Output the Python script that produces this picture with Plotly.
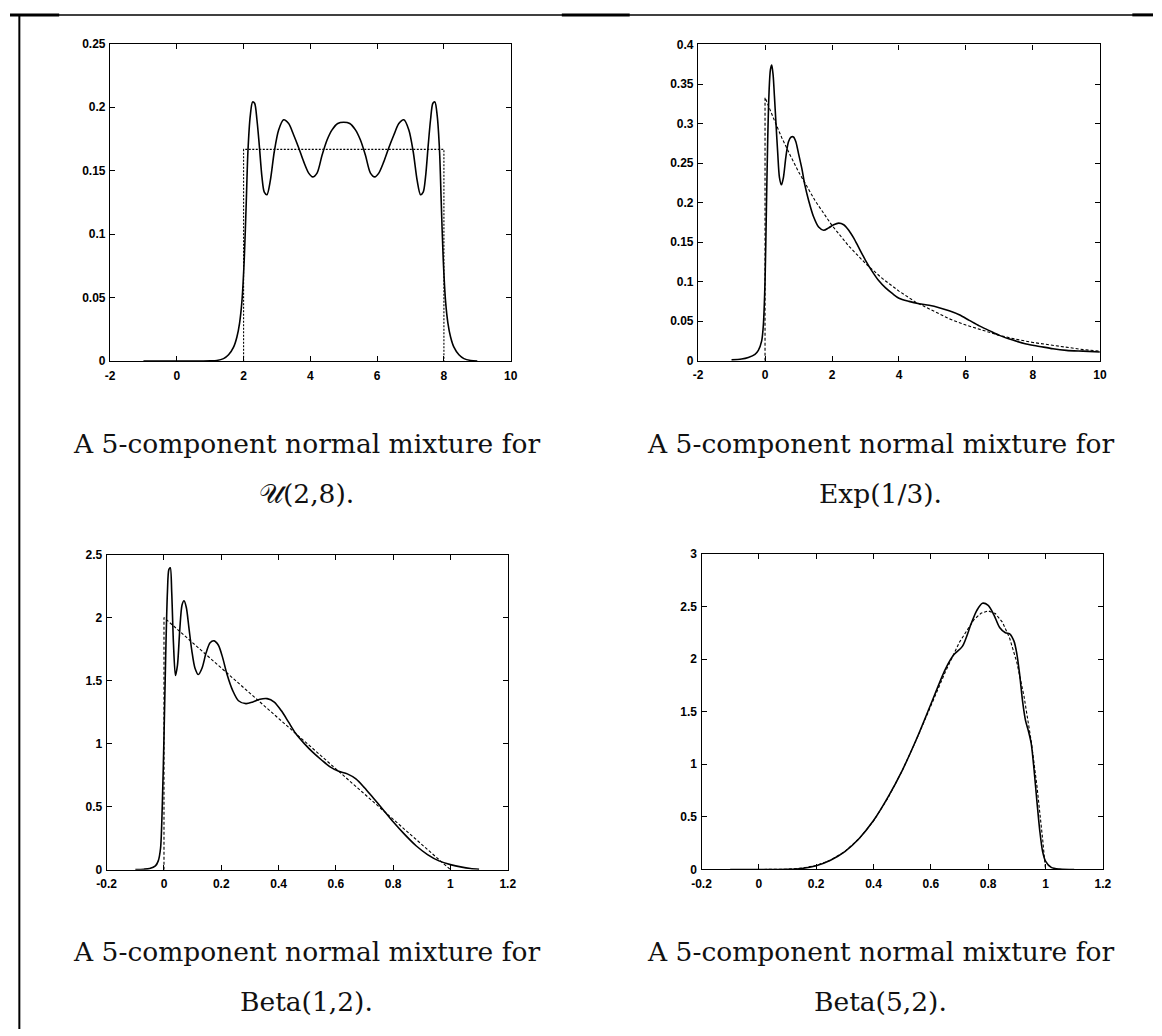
import plotly.graph_objects as go

W, H = 1162, 1036

# ---------------- data ----------------
# Panel 1: U(2,8)
u_true_x = [2, 2, 8, 8]
u_true_y = [0, 0.1667, 0.1667, 0]
u_fit_x = [-1, 0, 0.5, 1.0, 1.2, 1.4, 1.55, 1.7, 1.8, 1.88, 1.95, 2.02, 2.08, 2.13, 2.2, 2.27,
           2.33, 2.4, 2.47, 2.55, 2.62, 2.7, 2.8, 2.92, 3.05, 3.2, 3.35, 3.5, 3.65, 3.8, 3.95,
           4.07, 4.2, 4.35, 4.5, 4.65, 4.82, 5.0, 5.18, 5.35, 5.5, 5.65, 5.8, 5.93, 6.05, 6.2,
           6.35, 6.5, 6.65, 6.8, 6.95, 7.08, 7.2, 7.3, 7.38, 7.45, 7.53, 7.6, 7.67, 7.73, 7.8,
           7.87, 7.92, 7.98, 8.05, 8.12, 8.2, 8.3, 8.45, 8.6, 8.8, 9.0]
u_fit_y = [0, 0, 0, 0.0002, 0.0005, 0.002, 0.005, 0.011, 0.019, 0.03, 0.047, 0.08, 0.125, 0.165,
           0.193, 0.204, 0.203, 0.19, 0.17, 0.145, 0.133, 0.131, 0.142, 0.165, 0.182, 0.19,
           0.187, 0.178, 0.168, 0.157, 0.148, 0.145, 0.148, 0.162, 0.174, 0.182, 0.187, 0.188,
           0.187, 0.182, 0.174, 0.162, 0.148, 0.145, 0.148, 0.157, 0.168, 0.178, 0.187, 0.19,
           0.182, 0.165, 0.142, 0.131, 0.133, 0.145, 0.17, 0.19, 0.203, 0.204, 0.193, 0.165,
           0.125, 0.08, 0.047, 0.03, 0.019, 0.011, 0.005, 0.002, 0.0005, 0]

# Panel 2: Exp(1/3)
exp_true_x = [0, 0, 0.25, 0.5, 0.75, 1, 1.5, 2, 2.5, 3, 3.5, 4, 4.5, 5, 5.5, 6, 6.5, 7, 7.5,
              8, 8.5, 9, 9.5, 10]
exp_true_y = [0, 0.333, 0.307, 0.282, 0.260, 0.239, 0.202, 0.171, 0.145, 0.123, 0.104, 0.088,
              0.074, 0.063, 0.053, 0.045, 0.038, 0.032, 0.027, 0.023, 0.020, 0.017, 0.014, 0.012]
exp_fit_x = [-1, -0.7, -0.5, -0.3, -0.2, -0.1, -0.05, 0, 0.04, 0.08, 0.12, 0.16, 0.2, 0.24,
             0.28, 0.33, 0.38, 0.43, 0.49, 0.55, 0.62, 0.7, 0.78, 0.85, 0.92, 1.0, 1.1, 1.19,
             1.3, 1.45, 1.6, 1.75, 1.9, 2.05, 2.2, 2.35, 2.5, 2.65, 2.8, 3.0, 3.2, 3.4, 3.6,
             3.8, 4.0, 4.3, 4.6, 4.9, 5.2, 5.5, 5.8, 6.1, 6.4, 6.7, 7.0, 7.4, 7.8, 8.2, 8.6,
             9.0, 9.5, 10]
exp_fit_y = [0.001, 0.002, 0.004, 0.008, 0.013, 0.025, 0.045, 0.1, 0.19, 0.28, 0.34, 0.368,
             0.374, 0.362, 0.335, 0.298, 0.262, 0.232, 0.2225, 0.232, 0.257, 0.277, 0.283,
             0.283, 0.277, 0.262, 0.243, 0.222, 0.203, 0.182, 0.169, 0.165, 0.168, 0.172,
             0.174, 0.172, 0.165, 0.155, 0.143, 0.127, 0.113, 0.101, 0.092, 0.085, 0.079,
             0.075, 0.072, 0.07, 0.067, 0.063, 0.058, 0.051, 0.044, 0.038, 0.032, 0.026,
             0.021, 0.018, 0.015, 0.013, 0.012, 0.011]

# Panel 3: Beta(1,2)
b12_true_x = [0, 0, 1]
b12_true_y = [0, 2, 0]
b12_fit_x = [-0.1, -0.07, -0.05, -0.03, -0.02, -0.012, -0.006, 0, 0.006, 0.012, 0.017, 0.022,
             0.027, 0.033, 0.04, 0.047, 0.055, 0.063, 0.07, 0.078, 0.087, 0.097, 0.108, 0.12,
             0.133, 0.147, 0.161, 0.175, 0.19, 0.205, 0.22, 0.24, 0.26, 0.286, 0.31, 0.335,
             0.36, 0.385, 0.41, 0.435, 0.46, 0.49, 0.52, 0.55, 0.58, 0.61, 0.64, 0.67, 0.7,
             0.73, 0.76, 0.8, 0.84, 0.88, 0.92, 0.96, 1.0, 1.04, 1.07, 1.1]
b12_fit_y = [0.001, 0.004, 0.01, 0.03, 0.07, 0.17, 0.5, 1.05, 1.7, 2.2, 2.38, 2.395, 2.2, 1.8,
             1.54, 1.62, 1.9, 2.1, 2.133, 2.08, 1.92, 1.74, 1.6, 1.548, 1.6, 1.72, 1.8, 1.815,
             1.78, 1.68, 1.55, 1.42, 1.34, 1.317, 1.33, 1.352, 1.357, 1.33, 1.26, 1.17, 1.08,
             1.0, 0.93, 0.87, 0.815, 0.78, 0.76, 0.72, 0.65, 0.57, 0.49, 0.38, 0.28, 0.19,
             0.12, 0.07, 0.04, 0.02, 0.01, 0.004]

# Panel 4: Beta(5,2)
b52_true_x = [0, 0.05, 0.1, 0.15, 0.2, 0.25, 0.3, 0.35, 0.4, 0.45, 0.5, 0.55, 0.6, 0.65, 0.7,
              0.75, 0.775, 0.8, 0.825, 0.85, 0.875, 0.9, 0.925, 0.95, 0.97, 0.975, 0.99, 1.0]
b52_true_y = [0, 0.0002, 0.003, 0.013, 0.038, 0.088, 0.170, 0.293, 0.461, 0.677, 0.938, 1.235,
              1.555, 1.874, 2.161, 2.373, 2.435, 2.458, 2.432, 2.349, 2.198, 1.968, 1.647,
              1.222, 0.797, 0.678, 0.288, 0]
b52_fit_x = [-0.1, 0, 0.1, 0.15, 0.2, 0.25, 0.3, 0.35, 0.4, 0.45, 0.5, 0.55, 0.6, 0.65, 0.68,
             0.71, 0.74, 0.76, 0.78, 0.8, 0.82, 0.84, 0.86, 0.875, 0.89, 0.9, 0.91, 0.92, 0.93,
             0.94, 0.95, 0.96, 0.97, 0.98, 0.99, 1.0, 1.02, 1.05, 1.1]
b52_fit_y = [0, 0, 0.002, 0.01, 0.036, 0.088, 0.17, 0.295, 0.465, 0.685, 0.94, 1.24, 1.57, 1.9,
             2.04, 2.12, 2.33, 2.46, 2.53, 2.51, 2.42, 2.3, 2.25, 2.24, 2.17, 2.05, 1.85, 1.6,
             1.42, 1.32, 1.2, 0.95, 0.65, 0.37, 0.17, 0.08, 0.02, 0.004, 0]

# tick labels
x_ticks_wide = [-2, 0, 2, 4, 6, 8, 10]
x_ticktext_wide = ["-2", "0", "2", "4", "6", "8", "10"]
x_ticks_unit = [-0.2, 0, 0.2, 0.4, 0.6, 0.8, 1, 1.2]
x_ticktext_unit = ["-0.2", "0", "0.2", "0.4", "0.6", "0.8", "1", "1.2"]

captions_line1 = ["A 5-component normal mixture for"] * 4
captions_line2 = ["𝒰(2,8).", "Exp(1/3).", "Beta(1,2).", "Beta(5,2)."]

# ---------------- layout helpers ----------------
def dom_x(a, b):
    return [a / W, b / W]

def dom_y(top, bottom):
    return [1 - bottom / H, 1 - top / H]

panels = [
    # (x px range, y px range, x range, y range, y dtick, xticks, xticktext)
    ((101.7, 509), (37, 359), [-2, 10], [0, 0.25], 0.05, x_ticks_wide, x_ticktext_wide),
    ((699.5, 1108), (38, 358.5), [-2, 10], [0, 0.4], 0.05, x_ticks_wide, x_ticktext_wide),
    ((98.3, 506), (555, 874.5), [-0.2, 1.2], [0, 2.5], 0.5, x_ticks_unit, x_ticktext_unit),
    ((703, 1111), (554.3, 874.3), [-0.2, 1.2], [0, 3], 0.5, x_ticks_unit, x_ticktext_unit),
]

series = [
    (u_true_x, u_true_y, u_fit_x, u_fit_y, "2px,1.5px"),
    (exp_true_x, exp_true_y, exp_fit_x, exp_fit_y, "3px,2px"),
    (b12_true_x, b12_true_y, b12_fit_x, b12_fit_y, "3px,2px"),
    (b52_true_x, b52_true_y, b52_fit_x, b52_fit_y, "3px,2px"),
]

fig = go.Figure()
tickfont = dict(family="Liberation Sans, Arial, sans-serif", size=12, color="#000", weight="bold")

for i, (p, s) in enumerate(zip(panels, series)):
    n = "" if i == 0 else str(i + 1)
    (xa, xb), (yt, yb), xr, yr, ydt, xt, xtt = p
    tx, ty, fx, fy, dash = s
    fig.add_trace(go.Scatter(x=tx, y=ty, mode="lines", xaxis="x" + n, yaxis="y" + n,
                             line=dict(color="#000", width=1.1, dash=dash), showlegend=False))
    fig.add_trace(go.Scatter(x=fx, y=fy, mode="lines", xaxis="x" + n, yaxis="y" + n,
                             line=dict(color="#000", width=1.6, shape="spline", smoothing=0.8),
                             showlegend=False))
    common = dict(showline=True, linecolor="#000", linewidth=1.3, mirror="ticks",
                  ticks="inside", ticklen=5, tickwidth=1, tickcolor="#000",
                  showgrid=False, zeroline=False, tickfont=tickfont)
    fig.layout["xaxis" + n] = dict(domain=dom_x(xa, xb), range=xr, anchor="y" + n,
                                   tickvals=xt, ticktext=xtt, ticklabelstandoff=3, **common)
    fig.layout["yaxis" + n] = dict(domain=dom_y(yt, yb), range=yr, anchor="x" + n,
                                   dtick=ydt, tick0=0, ticklabelstandoff=1, **common)

# captions
cap_pos = [(301, 442, 493), (884.5, 442, 493), (301, 957, 1008), (884.5, 957, 1008)]
capfont = dict(family="DejaVu Serif, serif", size=26.5, color="#111")
for (cx, y1, y2), l1, l2 in zip(cap_pos, captions_line1, captions_line2):
    fig.add_annotation(x=cx / W, y=1 - y1 / H, xref="paper", yref="paper", text=l1,
                       showarrow=False, font=capfont, xanchor="center", yanchor="middle")
    fig.add_annotation(x=cx / W, y=1 - y2 / H, xref="paper", yref="paper", text=l2,
                       showarrow=False, font=capfont, xanchor="center", yanchor="middle")

# table border lines
def hline(x0, x1, y, w):
    fig.add_shape(type="line", xref="paper", yref="paper", x0=x0 / W, x1=x1 / W,
                  y0=1 - y / H, y1=1 - y / H, line=dict(color="#000", width=w))

hline(0, W, 8, 1.5)
hline(0, 50, 8, 3)
hline(561, 630, 8, 3)
hline(1141, W, 8, 3)
fig.add_shape(type="line", xref="paper", yref="paper", x0=9.5 / W, x1=9.5 / W,
              y0=0, y1=1 - 7 / H, line=dict(color="#000", width=2))

fig.update_layout(width=W, height=H, margin=dict(l=0, r=0, t=0, b=0),
                  paper_bgcolor="#fff", plot_bgcolor="#fff", showlegend=False)

fig.write_html("out.html")
